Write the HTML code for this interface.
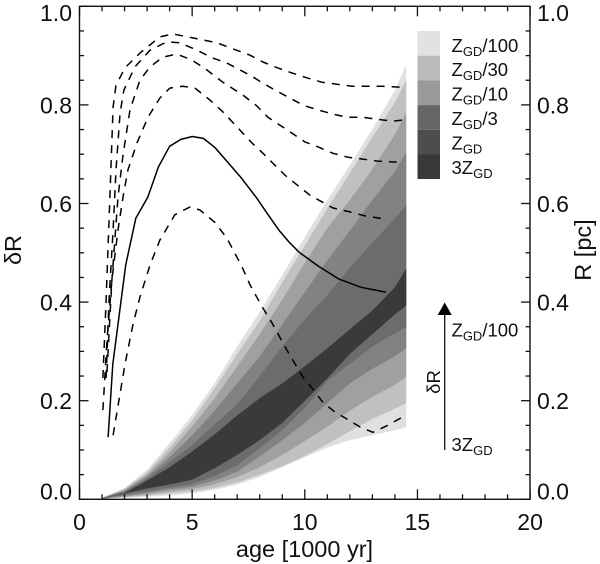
<!DOCTYPE html>
<html>
<head>
<meta charset="utf-8">
<title>Delta R vs age</title>
<style>
html,body{margin:0;padding:0;background:#fff;}
svg{display:block;}
text{font-family:"Liberation Sans",Arial,sans-serif;fill:#111;}
.tick{font-size:23px;}
.title{font-size:23.5px;}
.leg{font-size:18.5px;}
.leg tspan.s{font-size:13px;}
</style>
</head>
<body>
<svg id="chart" width="600" height="564" viewBox="0 0 600 564">
  <g id="bands"></g>
  <g id="lines"></g>
  <rect x="79.5" y="6.3" width="450.5" height="493" fill="none" stroke="#111" stroke-width="1.4"/>
  <g id="ticks" stroke="#111" stroke-width="1.3"></g>
  <g id="labels"></g>
  <text class="title" x="304.5" y="557" text-anchor="middle">age [1000 yr]</text>
  <text class="title" transform="translate(21,250) rotate(-90)" text-anchor="middle">δR</text>
  <text class="title" transform="translate(591,250) rotate(-90)" text-anchor="middle">R [pc]</text>

  <g id="legend">
    <rect x="417.5" y="31" width="22.5" height="24.7" fill="#e2e2e2"/>
    <rect x="417.5" y="55.7" width="22.5" height="24.7" fill="#bbbbbb"/>
    <rect x="417.5" y="80.4" width="22.5" height="24.7" fill="#999999"/>
    <rect x="417.5" y="105.1" width="22.5" height="24.7" fill="#666666"/>
    <rect x="417.5" y="129.8" width="22.5" height="24.7" fill="#4d4d4d"/>
    <rect x="417.5" y="154.5" width="22.5" height="24.5" fill="#383838"/>
    <text class="leg" x="451.5" y="52">Z<tspan class="s" dy="4">GD</tspan><tspan dy="-4">/100</tspan></text>
    <text class="leg" x="451.5" y="76">Z<tspan class="s" dy="4">GD</tspan><tspan dy="-4">/30</tspan></text>
    <text class="leg" x="451.5" y="100.5">Z<tspan class="s" dy="4">GD</tspan><tspan dy="-4">/10</tspan></text>
    <text class="leg" x="451.5" y="125">Z<tspan class="s" dy="4">GD</tspan><tspan dy="-4">/3</tspan></text>
    <text class="leg" x="451.5" y="149.5">Z<tspan class="s" dy="4">GD</tspan></text>
    <text class="leg" x="451.5" y="174">3Z<tspan class="s" dy="4">GD</tspan></text>
  </g>

  <g id="annotation">
    <line x1="444.7" y1="450" x2="444.7" y2="312" stroke="#111" stroke-width="1.3"/>
    <polygon points="444.7,302.5 437.7,315 451.7,315" fill="#000"/>
    <text class="leg" transform="translate(440,382) rotate(-90)" text-anchor="middle">δR</text>
    <text class="leg" x="451.5" y="336.5">Z<tspan class="s" dy="4">GD</tspan><tspan dy="-4">/100</tspan></text>
    <text class="leg" x="451.5" y="451">3Z<tspan class="s" dy="4">GD</tspan></text>
  </g>
</svg>
<script>
var bandAges = [1,2,3,4,5,6,7,8,9,10,11,12,13,14,14.5];
var edge1  = [.003,.023,.06,.114,.171,.236,.31,.38,.455,.532,.607,.678,.751,.83,.881];
var edge2  = [.003,.021,.055,.105,.16,.225,.295,.362,.44,.515,.59,.662,.735,.805,.85];
var edge3  = [.003,.019,.05,.095,.148,.205,.27,.335,.405,.48,.55,.607,.67,.74,.785];
var edge4  = [.002,.017,.046,.085,.13,.18,.235,.29,.355,.42,.485,.545,.607,.665,.704];
var edge5  = [.002,.015,.042,.075,.11,.152,.193,.25,.31,.365,.414,.47,.52,.57,.596];
var edge6  = [.002,.013,.038,.065,.097,.132,.17,.205,.235,.27,.306,.345,.383,.43,.468];
var edge7  = [.002,.012,.022,.03,.04,.063,.09,.12,.155,.2,.245,.295,.335,.375,.393];
var edge8  = [.002,.009,.016,.024,.031,.047,.069,.104,.14,.185,.24,.275,.31,.337,.35];
var edge9  = [.001,.007,.013,.02,.026,.038,.056,.087,.12,.155,.195,.235,.265,.29,.307];
var edge10 = [.001,.005,.01,.016,.021,.03,.045,.065,.09,.118,.147,.18,.208,.232,.248];
var edge11 = [.001,.004,.007,.012,.016,.023,.034,.05,.067,.088,.112,.138,.163,.184,.195];
var edge12 = [.001,.003,.005,.008,.012,.019,.03,.045,.065,.085,.105,.12,.13,.14,.146];

var solidAges = [1.27,1.48,2.05,2.5,3.03,3.5,4,4.5,5,5.5,6,6.5,7.2,7.85,8.3,8.85,9.3,9.75,10.6,11.5,12.5,13.6];
var solidR    = [.126,.274,.475,.57,.613,.674,.716,.73,.736,.732,.714,.688,.651,.612,.582,.546,.522,.501,.473,.447,.43,.42];

var dash1Ages = [1.04,1.18,1.35,1.49,1.62,2.02,2.68,3.57,4.14,5.03,6.1,6.97,7.56,8.14,8.8,9.42,10.09,10.75,11.42,12.09,12.75,13.41,14.3];
var dash1R    = [.246,.404,.613,.796,.84,.875,.905,.938,.944,.936,.926,.911,.901,.887,.875,.865,.855,.846,.842,.838,.838,.838,.836];
var dash2Ages = [1.18,1.31,1.49,1.62,1.8,1.97,2.46,3.13,3.88,4.46,5.21,5.92,6.54,7.12,7.69,8.14,8.76,9.33,10,10.58,11.2,11.86,12.53,13.19,13.9,14.5];
var dash2R    = [.246,.404,.546,.668,.784,.83,.877,.911,.928,.926,.911,.895,.885,.871,.857,.844,.828,.814,.798,.79,.782,.775,.775,.771,.767,.77];
var dash3Ages = [1.22,1.44,1.71,1.93,2.24,2.68,3.13,3.7,4.32,4.99,5.65,6.36,7.25,7.87,8.36,8.89,9.42,10,10.58,11.24,11.91,12.57,13.24,14.08];
var dash3R    = [.258,.445,.613,.698,.79,.85,.877,.897,.903,.891,.871,.846,.82,.798,.775,.759,.743,.725,.715,.702,.694,.69,.686,.684];
var dash4Ages = [1.04,1.22,1.44,1.71,1.93,2.15,2.55,3.04,3.57,4.01,4.59,5.12,5.79,6.36,7.12,7.65,8.14,8.58,9.11,9.65,10.22,11.24,12,12.66,13.46];
var dash4R    = [.181,.323,.445,.546,.613,.668,.723,.775,.814,.834,.838,.834,.81,.786,.749,.723,.702,.682,.658,.638,.617,.591,.583,.575,.569];
var dash5Ages = [1.49,2.02,2.37,2.68,3.13,3.57,4.23,4.9,5.34,6,6.54,7.21,7.56,7.87,8.14,8.54,8.89,9.2,9.55,9.91,10.31,10.8,11.33,11.86,12.44,13.02,13.64,14.34,14.5];
var dash5R    = [.13,.274,.354,.41,.475,.526,.577,.593,.587,.562,.53,.472,.436,.41,.388,.358,.329,.303,.276,.248,.226,.197,.177,.163,.147,.136,.149,.167,.17];

var xTickValues = [0,5,10,15,20];
var xTickLabels = ['0','5','10','15','20'];
var yTickValues = [0,0.2,0.4,0.6,0.8,1];
var yTickLabels = ['0.0','0.2','0.4','0.6','0.8','1.0'];

var NS = 'http://www.w3.org/2000/svg';
function xAxis(a){ return 79.5 + 22.53 * a; }
function yAxis(r){ return 499.3 - 493 * r; }
function make(tag, parent, attrs){
  var el = document.createElementNS(NS, tag);
  for (var k in attrs) el.setAttribute(k, attrs[k]);
  parent.appendChild(el);
  return el;
}
function pts(ages, vals){
  return ages.map(function(a, i){ return xAxis(a).toFixed(1) + ',' + yAxis(vals[i]).toFixed(1); });
}

var bandsG = document.getElementById('bands');
function band(upper, lower, color, name){
  var p = pts(bandAges, upper).concat(pts(bandAges, lower).reverse()).join(' ');
  var el = make('polygon', bandsG, {points: p, fill: color});
  
  
}
band(edge1, edge12, '#e0e0e0', 'band-zgd-100');
band(edge2, edge11, '#c0c0c0', 'band-zgd-30');
band(edge3, edge10, '#a0a0a0', 'band-zgd-10');
band(edge4, edge9, '#828282', 'band-zgd-3');
band(edge5, edge8, '#6c6c6c', 'band-zgd');
band(edge6, edge7, '#3a3a3a', 'band-3zgd');

var linesG = document.getElementById('lines');
function curve(ages, vals, dashed, name){
  var attrs = {points: pts(ages, vals).join(' '), fill: 'none', stroke: '#000', 'stroke-width': 1.5, 'stroke-linejoin': 'round'};
  if (dashed) attrs['stroke-dasharray'] = '8 7';
  var el = make('polyline', linesG, attrs);
  
  
}
curve(dash1Ages, dash1R, true, 'dashed-curve-1');
curve(dash2Ages, dash2R, true, 'dashed-curve-2');
curve(dash3Ages, dash3R, true, 'dashed-curve-3');
curve(dash4Ages, dash4R, true, 'dashed-curve-4');
curve(dash5Ages, dash5R, true, 'dashed-curve-5');
curve(solidAges, solidR, false, 'solid-curve');

var ticksG = document.getElementById('ticks');
for (var i = 0; i <= 20; i++) {
  var len = (i % 5 === 0) ? 10 : 5;
  var tx = xAxis(i);
  var t1 = make('line', ticksG, {x1: tx, x2: tx, y1: yAxis(0), y2: yAxis(0) - len});
  
  
  var t2 = make('line', ticksG, {x1: tx, x2: tx, y1: yAxis(1), y2: yAxis(1) + len});
  
  
}
for (var j = 0; j <= 20; j++) {
  var ylen = (j % 4 === 0) ? 9 : 4.5;
  var ty = yAxis(j * 0.05);
  var t3 = make('line', ticksG, {x1: xAxis(0), x2: xAxis(0) + ylen, y1: ty, y2: ty});
  
  
  var t4 = make('line', ticksG, {x1: xAxis(20), x2: xAxis(20) - ylen, y1: ty, y2: ty});
  
  
}

var labelsG = document.getElementById('labels');
xTickValues.forEach(function(v, i){
  var el = make('text', labelsG, {'class': 'tick', x: xAxis(v), y: 530, 'text-anchor': 'middle'});
  el.textContent = xTickLabels[i];
  
  
});
yTickValues.forEach(function(v, i){
  var base = yAxis(v) + 8.5;
  if (v === 0) base = yAxis(v);
  if (v === 1) base = yAxis(v) + 14.7;
  var l = make('text', labelsG, {'class': 'tick', x: 72, y: base, 'text-anchor': 'end'});
  l.textContent = yTickLabels[i];
  
  
  var r = make('text', labelsG, {'class': 'tick', x: 537, y: base, 'text-anchor': 'start'});
  r.textContent = yTickLabels[i];
  
  
});
</script>
</body>
</html>
